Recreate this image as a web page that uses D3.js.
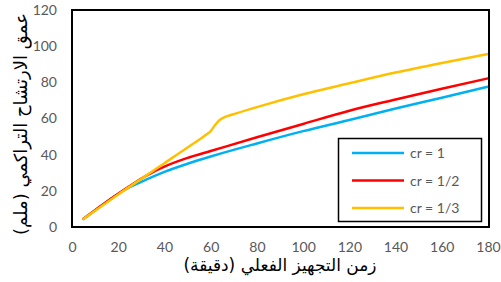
<!DOCTYPE html>
<html>
<head>
<meta charset="utf-8">
<script src="https://cdn.jsdelivr.net/npm/d3@7"></script>
<style>
  body { margin: 0; background: #fff; }
  .tick text { font-family: Lato, "Liberation Sans", sans-serif; font-size: 14px; fill: #595959; }
  .legend text { font-family: Lato, "Liberation Sans", sans-serif; font-size: 14px; fill: #595959; }
  .title { font-family: "DejaVu Sans", sans-serif; font-size: 18px; fill: #000; }
  .title.x { font-size: 17px; }
</style>
</head>
<body>
<div id="chart"></div>
<script>
'use strict';

/**** DATA ****/
var xTicks = [0, 20, 40, 60, 80, 100, 120, 140, 160, 180];
var yTicks = [0, 20, 40, 60, 80, 100, 120];

// time (min) for each series
var timeCr1 = [5, 10, 15, 20, 25, 30, 40, 50, 60, 80, 100, 120, 140, 160, 180];
var depthCr1 = [4.5, 9.2, 14, 18.4, 22, 25, 30.5, 35, 39, 46.2, 53, 59.2, 65.5, 71.5, 77.6];

var timeCr2 = [5, 10, 15, 20, 25, 30, 35, 40, 50, 60, 80, 100, 120, 140, 160, 180];
var depthCr2 = [4.5, 9.2, 14, 18.4, 22.6, 26.8, 30.4, 33.4, 38.2, 42, 49.6, 57, 64.3, 70.5, 76.5, 82.2];

var timeCr3 = [5, 10, 20, 30, 40, 50, 55, 58, 60, 62, 64, 66, 70, 80, 100, 120, 140, 160, 180];
var depthCr3 = [4.5, 9, 18, 26.6, 35.3, 44, 48.2, 51, 53, 56.5, 59.3, 60.7, 62.4, 66.3, 73.4, 79.5, 85.4, 90.7, 95.7];

var seriesNames = ['cr = 1', 'cr = 1/2', 'cr = 1/3'];
var seriesColors = ['#00B0F0', '#FF0000', '#FFC000'];

var xTitle = 'زمن التجهيز الفعلي (دقيقة)';
var yTitle = 'عمق الارتشاح التراكمي (ملم)';

/**** LAYOUT ****/
var width = 501, height = 282;
var plotLeft = 72, plotRight = 488, plotTop = 10, plotBottom = 227;

var svg = d3.select('#chart').append('svg')
  .attr('width', width)
  .attr('height', height);

var x = d3.scaleLinear().domain([0, 180]).range([plotLeft, plotRight]);
var y = d3.scaleLinear().domain([0, 120]).range([plotBottom, plotTop]);

// axes (labels only, no lines)
var xAxis = svg.append('g')
  .attr('transform', 'translate(0,' + (plotBottom + 9) + ')')
  .call(d3.axisBottom(x).tickValues(xTicks).tickSize(0).tickPadding(6));
xAxis.select('.domain').remove();

var yAxis = svg.append('g')
  .attr('transform', 'translate(' + (plotLeft - 9) + ',0)')
  .call(d3.axisLeft(y).tickValues(yTicks).tickSize(0).tickPadding(6));
yAxis.select('.domain').remove();

// series lines
var allSeries = [
  { t: timeCr1, d: depthCr1 },
  { t: timeCr2, d: depthCr2 },
  { t: timeCr3, d: depthCr3 }
];

var line = d3.line()
  .x(function(p) { return x(p[0]); })
  .y(function(p) { return y(p[1]); })
  .curve(d3.curveMonotoneX);

var lines = svg.append('g');
allSeries.forEach(function(s, i) {
  var pts = s.t.map(function(t, j) { return [t, s.d[j]]; });
  lines.append('path')
    .attr('d', line(pts))
    .attr('fill', 'none')
    .attr('stroke', seriesColors[i])
    .attr('stroke-width', 2.5)
    .attr('stroke-linecap', 'round');
});

// plot frame
svg.append('rect')
  .attr('x', plotLeft)
  .attr('y', plotTop)
  .attr('width', plotRight - plotLeft + 1)
  .attr('height', plotBottom - plotTop)
  .attr('fill', 'none')
  .attr('stroke', '#000')
  .attr('stroke-width', 2);

// legend
var legend = svg.append('g').attr('class', 'legend');
legend.append('rect')
  .attr('x', 338.5)
  .attr('y', 138.5)
  .attr('width', 143)
  .attr('height', 83)
  .attr('fill', '#fff')
  .attr('stroke', '#000')
  .attr('stroke-width', 1.5);

seriesNames.forEach(function(name, i) {
  var ly = 153 + i * 27.5;
  legend.append('line')
    .attr('x1', 352).attr('x2', 404)
    .attr('y1', ly).attr('y2', ly)
    .attr('stroke', seriesColors[i])
    .attr('stroke-width', 2.5);
  legend.append('text')
    .attr('x', 410)
    .attr('y', ly + 5)
    .text(name);
});

// titles
svg.append('text')
  .attr('class', 'title x')
  .attr('x', 280)
  .attr('y', 271)
  .attr('text-anchor', 'middle')
  .text(xTitle);

svg.append('text')
  .attr('class', 'title')
  .attr('transform', 'translate(27,124) rotate(-90)')
  .attr('text-anchor', 'middle')
  .text(yTitle);
</script>
</body>
</html>
